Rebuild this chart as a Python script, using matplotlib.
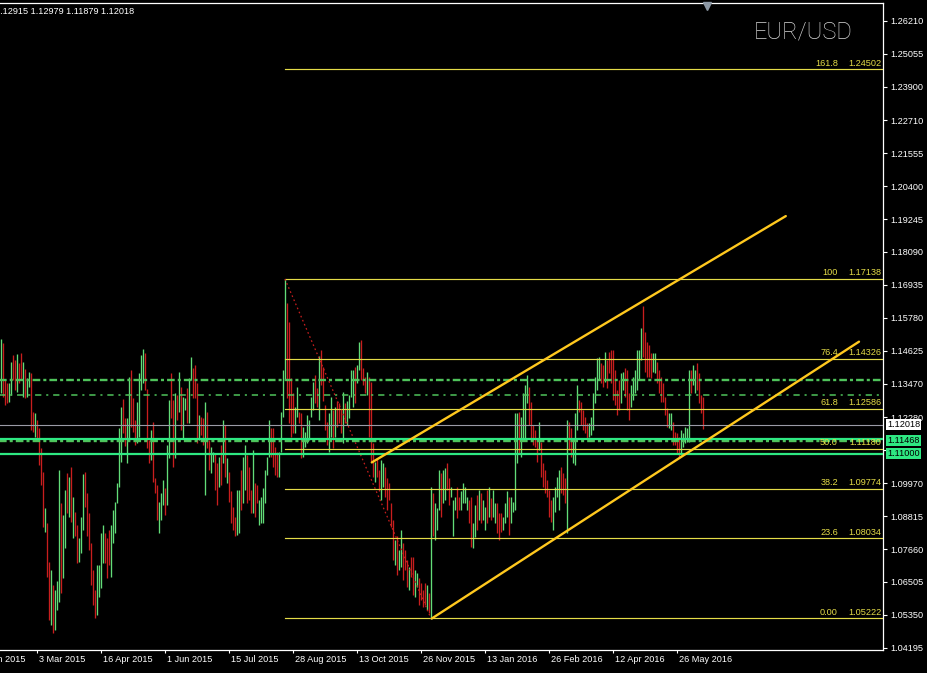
import matplotlib
matplotlib.use('Agg')
import matplotlib.pyplot as plt
import numpy as np

plt.rcParams['font.family'] = ['Liberation Sans', 'DejaVu Sans']
plt.rcParams['lines.scale_dashes'] = False

# daily bars, one per trading day (index 0 = early Feb 2015)
bar_high = [
    1.1502, 1.1488, 1.1359, 1.1348, 1.1348, 1.1424, 1.1447, 1.1430, 1.1451, 1.1418,
    1.1453, 1.1424, 1.1397, 1.1365, 1.1389, 1.1383, 1.1248, 1.1242, 1.1219, 1.1190,
    1.1120, 1.1038, 1.0909, 1.0856, 1.0722, 1.0693, 1.0640, 1.0622, 1.0652, 1.1044,
    1.0927, 1.0886, 1.0973, 1.1032, 1.1020, 1.1055, 1.0950, 1.0897, 1.0851, 1.0804,
    1.0880, 1.1030, 1.1038, 1.0962, 1.0891, 1.0786, 1.0693, 1.0622, 1.0710, 1.0710,
    1.0821, 1.0851, 1.0821, 1.0804, 1.0833, 1.0851, 1.0903, 1.0932, 1.0997, 1.1190,
    1.1266, 1.1292, 1.1225, 1.1225, 1.1371, 1.1395, 1.1295, 1.1219, 1.1283, 1.1383,
    1.1447, 1.1467, 1.1453, 1.1327, 1.1149, 1.1184, 1.1213, 1.1014, 1.0991, 1.0932,
    1.0962, 1.1008, 1.0979, 1.1131, 1.1289, 1.1383, 1.1289, 1.1313, 1.1307, 1.1389,
    1.1336, 1.1301, 1.1295, 1.1330, 1.1365, 1.1441, 1.1400, 1.1412, 1.1350, 1.1237,
    1.1231, 1.1225, 1.1283, 1.1248, 1.1149, 1.1125, 1.1108, 1.1102, 1.1067, 1.1090,
    1.1131, 1.1219, 1.1202, 1.1085, 1.1038, 1.0968, 1.0915, 1.0880, 1.0973,
    1.0974, 1.1044, 1.1090, 1.1131, 1.1096, 1.1055, 1.0974, 1.1114, 1.0997, 1.0991,
    1.0938, 1.0950, 1.0980, 1.1044, 1.1090, 1.1219, 1.1190, 1.1190, 1.1125, 1.1108,
    1.1108, 1.1248, 1.1395, 1.1714, 1.1629, 1.1564, 1.1365, 1.1313, 1.1266, 1.1336,
    1.1248, 1.1243, 1.1196, 1.1178, 1.1237, 1.1219, 1.1301, 1.1354, 1.1377, 1.1330,
    1.1442, 1.1465, 1.1406, 1.1272, 1.1213, 1.1243, 1.1301, 1.1254, 1.1266, 1.1284,
    1.1278, 1.1254, 1.1319, 1.1278, 1.1284, 1.1307, 1.1395, 1.1395, 1.1406, 1.1412,
    1.1494, 1.1500, 1.1401, 1.1371, 1.1389, 1.1371, 1.1354, 1.1137, 1.1073, 1.1085,
    1.1044, 1.1079, 1.1067, 1.1055, 1.1015, 1.0997, 1.0927, 1.0868, 1.0798, 1.0810,
    1.0763, 1.0833, 1.0786, 1.0763, 1.0728, 1.0704, 1.0739, 1.0739, 1.0693, 1.0681,
    1.0663, 1.0646, 1.0622, 1.0646, 1.0640, 1.0611, 1.0985, 1.0962, 1.0927, 1.0909,
    1.1044, 1.1032, 1.1044, 1.1050, 1.1067, 1.1015, 1.0985, 1.0938, 1.0950, 1.0985,
    1.0950, 1.0968, 1.0997, 1.0985, 1.0950, 1.0938,
    1.0950, 1.0856, 1.0921, 1.0956, 1.0973, 1.0962, 1.0938, 1.0915, 1.0973, 1.0985,
    1.0944, 1.0973, 1.0927, 1.0927, 1.0892, 1.0892, 1.0880, 1.0927, 1.0968, 1.0950,
    1.0950, 1.0932, 1.1242, 1.1242, 1.1248, 1.1231, 1.1313, 1.1342, 1.1377, 1.1336,
    1.1283, 1.1202, 1.1184, 1.1155, 1.1213, 1.1143, 1.1067, 1.1044, 1.1009, 1.0973,
    1.0938, 1.0950, 1.0985, 1.1020, 1.1044, 1.1055, 1.1032, 1.1015, 1.1219, 1.1213,
    1.1190, 1.1149, 1.1242, 1.1342, 1.1289, 1.1283, 1.1254, 1.1231, 1.1207, 1.1207,
    1.1231, 1.1313, 1.1371, 1.1435, 1.1441, 1.1418, 1.1412, 1.1459, 1.1430, 1.1459,
    1.1465, 1.1465, 1.1395, 1.1324, 1.1360, 1.1383, 1.1389, 1.1400, 1.1395, 1.1313,
    1.1342, 1.1371, 1.1395, 1.1465, 1.1465, 1.1541, 1.1619, 1.1529, 1.1494, 1.1482,
    1.1453, 1.1453, 1.1453, 1.1424, 1.1395, 1.1371, 1.1348, 1.1301, 1.1260, 1.1242,
    1.1242, 1.1213, 1.1178, 1.1172, 1.1161, 1.1184, 1.1172, 1.1196, 1.1190, 1.1395,
    1.1395, 1.1412, 1.1395, 1.1418, 1.1383, 1.1307, 1.1298,
]

bar_low = [
    1.1313, 1.1301, 1.1272, 1.1278, 1.1283, 1.1307, 1.1359, 1.1324, 1.1319, 1.1348,
    1.1359, 1.1301, 1.1295, 1.1301, 1.1336, 1.1184, 1.1178, 1.1161, 1.1149, 1.1061,
    1.0991, 1.0845, 1.0827, 1.0669, 1.0517, 1.0500, 1.0470, 1.0482, 1.0552, 1.0581,
    1.0611, 1.0663, 1.0769, 1.0891, 1.0880, 1.0862, 1.0804, 1.0810, 1.0716, 1.0722,
    1.0751, 1.0833, 1.0915, 1.0810, 1.0763, 1.0640, 1.0570, 1.0523, 1.0535, 1.0599,
    1.0628, 1.0716, 1.0716, 1.0663, 1.0710, 1.0669, 1.0786, 1.0821, 1.0927, 1.0985,
    1.1073, 1.1172, 1.1126, 1.1067, 1.1149, 1.1196, 1.1178, 1.1131, 1.1137, 1.1161,
    1.1324, 1.1348, 1.1324, 1.1120, 1.1067, 1.1079, 1.1003, 1.0962, 1.0868, 1.0821,
    1.0868, 1.0921, 1.0886, 1.0921, 1.1085, 1.1225, 1.1055, 1.1085, 1.1219, 1.1248,
    1.1184, 1.1155, 1.1254, 1.1207, 1.1207, 1.1359, 1.1295, 1.1295, 1.1137, 1.1149,
    1.1166, 1.1131, 1.0956, 1.1120, 1.1044, 1.1032, 1.1073, 1.0973, 1.0921, 1.0985,
    1.0991, 1.1067, 1.1020, 1.0997, 1.0932, 1.0856, 1.0833, 1.0810, 1.0815,
    1.0821, 1.0903, 1.0927, 1.0974, 1.0927, 1.0938, 1.0892, 1.0892, 1.0880, 1.0927,
    1.0851, 1.0856, 1.0856, 1.0927, 1.1026, 1.1090, 1.1090, 1.1055, 1.1026, 1.1020,
    1.1020, 1.1108, 1.1231, 1.1360, 1.1295, 1.1208, 1.1161, 1.1172, 1.1172, 1.1231,
    1.1208, 1.1085, 1.1090, 1.1125, 1.1137, 1.1149, 1.1231, 1.1254, 1.1278, 1.1266,
    1.1219, 1.1342, 1.1284, 1.1184, 1.1131, 1.1108, 1.1161, 1.1120, 1.1161, 1.1196,
    1.1208, 1.1172, 1.1137, 1.1208, 1.1202, 1.1225, 1.1301, 1.1266, 1.1278, 1.1348,
    1.1395, 1.1360, 1.1342, 1.1313, 1.1307, 1.1161, 1.1073, 1.1020, 1.1003, 1.1020,
    1.0968, 1.0938, 1.0985, 1.0950, 1.0903, 1.0938, 1.0845, 1.0728, 1.0710, 1.0675,
    1.0693, 1.0704, 1.0658, 1.0693, 1.0634, 1.0622, 1.0669, 1.0605, 1.0599, 1.0634,
    1.0570, 1.0587, 1.0564, 1.0570, 1.0552, 1.0540, 1.0522, 1.0810, 1.0798, 1.0833,
    1.0903, 1.0880, 1.0927, 1.0938, 1.0974, 1.0921, 1.0950, 1.0810, 1.0903, 1.0874,
    1.0903, 1.0903, 1.0927, 1.0927, 1.0903, 1.0856,
    1.0774, 1.0768, 1.0809, 1.0833, 1.0868, 1.0856, 1.0868, 1.0833, 1.0856, 1.0880,
    1.0868, 1.0880, 1.0856, 1.0821, 1.0798, 1.0827, 1.0833, 1.0856, 1.0880, 1.0815,
    1.0856, 1.0897, 1.0903, 1.1067, 1.1102, 1.1090, 1.1155, 1.1155, 1.1278, 1.1202,
    1.1155, 1.1131, 1.1125, 1.1073, 1.1114, 1.1020, 1.0985, 1.0962, 1.0950, 1.0880,
    1.0862, 1.0833, 1.0897, 1.0950, 1.0903, 1.0962, 1.0956, 1.0927, 1.0821, 1.1114,
    1.1090, 1.1067, 1.1061, 1.1184, 1.1248, 1.1202, 1.1184, 1.1172, 1.1155, 1.1161,
    1.1166, 1.1184, 1.1278, 1.1324, 1.1360, 1.1348, 1.1336, 1.1354, 1.1330, 1.1383,
    1.1348, 1.1289, 1.1272, 1.1237, 1.1254, 1.1278, 1.1324, 1.1301, 1.1254, 1.1219,
    1.1266, 1.1289, 1.1313, 1.1324, 1.1360, 1.1430, 1.1441, 1.1389, 1.1371, 1.1371,
    1.1365, 1.1389, 1.1383, 1.1348, 1.1313, 1.1283, 1.1283, 1.1237, 1.1196, 1.1190,
    1.1184, 1.1131, 1.1131, 1.1102, 1.1090, 1.1096, 1.1125, 1.1137, 1.1143, 1.1143,
    1.1313, 1.1342, 1.1313, 1.1324, 1.1278, 1.1242, 1.1188,
]

# G = bull bar, R = bear bar
bar_dir = (
    'GRRRGGRRGR' 'RGRGGRRGRR' 'RRGRRGRGGG' 'RGGRGRGRRG' 'GGRRRRRRGG'
    'GGRRRGGGGG' 'GRRGGRRRGG' 'GGRRRGRRRG' 'GGRGGRRGRG' 'RGGRGGRRRG'
    'RRGRRGGRRG' 'RGRGRRRRG'
    'GRGGRRRGRR' 'GGGGGGRRRR' 'GGGGRRRRGG' 'RRGGGGGGRR' 'GRRRRGGRGR'
    'RRGRGGGGRG' 'GRRRGRRRGR' 'RGGRRRRRGR' 'GGRRRGRRGG' 'RRRRGRGRGG'
    'GRGGRRGGGR' 'RGGGGR'
    'RGGRGRGGRG' 'RGGRRRGGGR' 'GGGGRGGGGR' 'RRRRGRRRRR' 'RGGGGRRRGR'
    'RGGGRRRRRG' 'GGGGGRRGRR' 'RRRRRGGRRR' 'GGGGGGRRRR' 'RGGRRRRRRG'
    'GRRRRGGGGG' 'RGGRRRR'
)

last_ohlc = '1.12915 1.12979 1.11879 1.12018'

# fibonacci retracement drawn from the Aug-2015 high to the Dec-2015 low
fib_levels = ['161.8', '100', '76.4', '61.8', '50.0', '38.2', '23.6', '0.00']
fib_prices = [1.24502, 1.17138, 1.14326, 1.12586, 1.11180, 1.09774, 1.08034, 1.05222]
fib_start_bar = 142
fib_diag_bars = [142, 215]
fib_diag_prices = [1.17138, 1.05222]

# channel trend lines
upper_bars = [185.4, 392.4]
upper_prices = [1.1070, 1.1935]
lower_bars = [215.4, 429.0]
lower_prices = [1.0522, 1.1494]

# horizontal levels
dashdot_thick = [1.13594, 1.11460]
dashdot_thin = [1.13057]
solid_levels = [1.11530, 1.11000]
bid_price = 1.12018

price_boxes = ['1.11000', '1.11468', '1.12018']

ytick_vals = [1.26210, 1.25055, 1.23900, 1.22710, 1.21555, 1.20400, 1.19245,
              1.18090, 1.16935, 1.15780, 1.14625, 1.13470, 1.12280, 1.11125,
              1.09970, 1.08815, 1.07660, 1.06505, 1.05350, 1.04195]
ytick_text = ['1.26210', '1.25055', '1.23900', '1.22710', '1.21555', '1.20400',
              '1.19245', '1.18090', '1.16935', '1.15780', '1.14625', '1.13470',
              '1.12280', '', '1.09970', '1.08815', '1.07660', '1.06505',
              '1.05350', '1.04195']

xtick_bars = [-14, 18, 50, 82, 114, 146, 178, 210, 242, 274, 306, 338]
xtick_text = ['16 Jan 2015', '3 Mar 2015', '16 Apr 2015', '1 Jun 2015',
              '15 Jul 2015', '28 Aug 2015', '13 Oct 2015', '26 Nov 2015',
              '13 Jan 2016', '26 Feb 2016', '12 Apr 2016', '26 May 2016']

BULL = '#62dc78'
BEAR = '#c81e1e'
FIB = '#e4dc48'
CHANNEL = '#ffc81e'
GREEN_DD = '#4fc35b'
GREEN = '#2ee882'
FS = 6.6


def draw_bars(ax):
    x = np.arange(len(bar_high))
    cols = [BULL if d == 'G' else BEAR for d in bar_dir]
    ax.vlines(x, bar_low, bar_high, colors=cols, lw=0.95, zorder=2)


def draw_levels(ax):
    for p in dashdot_thick:
        ln, = ax.plot([-1, 445], [p, p], color=GREEN_DD, lw=1.7, zorder=3)
        ln.set_dashes([5.5, 2.2, 2.2, 2.2])
    for p in dashdot_thin:
        ln, = ax.plot([-1, 445], [p, p], color=GREEN_DD, lw=1.1, zorder=3)
        ln.set_dashes([4.5, 3.5, 1.5, 3.5])
    for p in solid_levels:
        ax.axhline(p, color=GREEN, lw=1.6, zorder=4)
    ax.axhline(bid_price, color='#9a9aa6', lw=0.8, zorder=3)


def draw_fibo(ax):
    x_end = 440.5
    for lev, p in zip(fib_levels, fib_prices):
        ax.plot([fib_start_bar, x_end], [p, p], color=FIB, lw=0.85, zorder=3)
        ax.annotate(f'{p:.5f}', xy=(1.0, p), xycoords=('axes fraction', 'data'),
                    xytext=(-1.2, 1.3), textcoords='offset points',
                    ha='right', va='bottom', color=FIB, fontsize=FS, zorder=5)
        ax.annotate(lev, xy=(1.0, p), xycoords=('axes fraction', 'data'),
                    xytext=(-32.4, 1.3), textcoords='offset points',
                    ha='right', va='bottom', color=FIB, fontsize=FS, zorder=5)
    ax.plot(fib_diag_bars, fib_diag_prices, color=BEAR, lw=0.9,
            linestyle=(0, (1.2, 2.0)), zorder=3)


def draw_channel(ax):
    ax.plot(upper_bars, upper_prices, color=CHANNEL, lw=1.7,
            solid_capstyle='round', zorder=4)
    ax.plot(lower_bars, lower_prices, color=CHANNEL, lw=1.7,
            solid_capstyle='round', zorder=4)


def draw_axes_text(fig, ax):
    ax.yaxis.tick_right()
    ax.set_yticks(ytick_vals)
    ax.set_yticklabels(ytick_text)
    ax.tick_params(axis='y', colors='white', length=3, width=0.8, pad=2.2,
                   labelsize=FS, direction='out')
    ax.set_xticks([b for b in xtick_bars if b >= 0])
    ax.set_xticklabels([])
    ax.tick_params(axis='x', colors='white', length=2.5, width=0.8,
                   direction='out')
    for b, t in zip(xtick_bars, xtick_text):
        ax.annotate(t, xy=(b, 0), xycoords=('data', 'axes fraction'),
                    xytext=(1.4, -3.6), textcoords='offset points',
                    ha='left', va='top', color='white', fontsize=FS,
                    annotation_clip=False)

    # price boxes on the right scale
    box_cols = [GREEN, GREEN, 'white']
    for t, fc in zip(price_boxes, box_cols):
        ax.annotate(t, xy=(1.0, float(t)), xycoords=('axes fraction', 'data'),
                    xytext=(3.0, 0), textcoords='offset points',
                    ha='left', va='center', color='black', fontsize=FS,
                    bbox=dict(boxstyle='square,pad=0.12', fc=fc, ec='none'),
                    annotation_clip=False, zorder=6)

    fig.text(-4.6 / 928, 1 - 11.8 / 673, last_ohlc, color='white',
             fontsize=FS, ha='left', va='center')
    fig.text(853 / 928, 1 - 32 / 673, 'EUR/USD', color='#d6d6d6',
             fontsize=17, family=['Roboto', 'DejaVu Sans'], fontweight='light',
             ha='right', va='center')
    ax.plot([707 / 928], [1 - 6 / 673], marker='v', ms=5.5, color='#8c98a4',
            transform=fig.transFigure, clip_on=False, zorder=7)


def main():
    fig = plt.figure(figsize=(9.28, 6.73), dpi=100, facecolor='black')
    ax = fig.add_axes([0, 23 / 673, 883 / 928, 647 / 673], facecolor='black')

    draw_bars(ax)
    draw_levels(ax)
    draw_fibo(ax)
    draw_channel(ax)

    ax.set_xlim(-0.5, 441.0)
    ax.set_ylim(1.04114, 1.26832)
    for s in ['top', 'right', 'bottom']:
        ax.spines[s].set_color('white')
        ax.spines[s].set_linewidth(0.9)
    ax.spines['left'].set_visible(False)

    draw_axes_text(fig, ax)

    fig.savefig('out.png', dpi=100, facecolor='black')


main()
